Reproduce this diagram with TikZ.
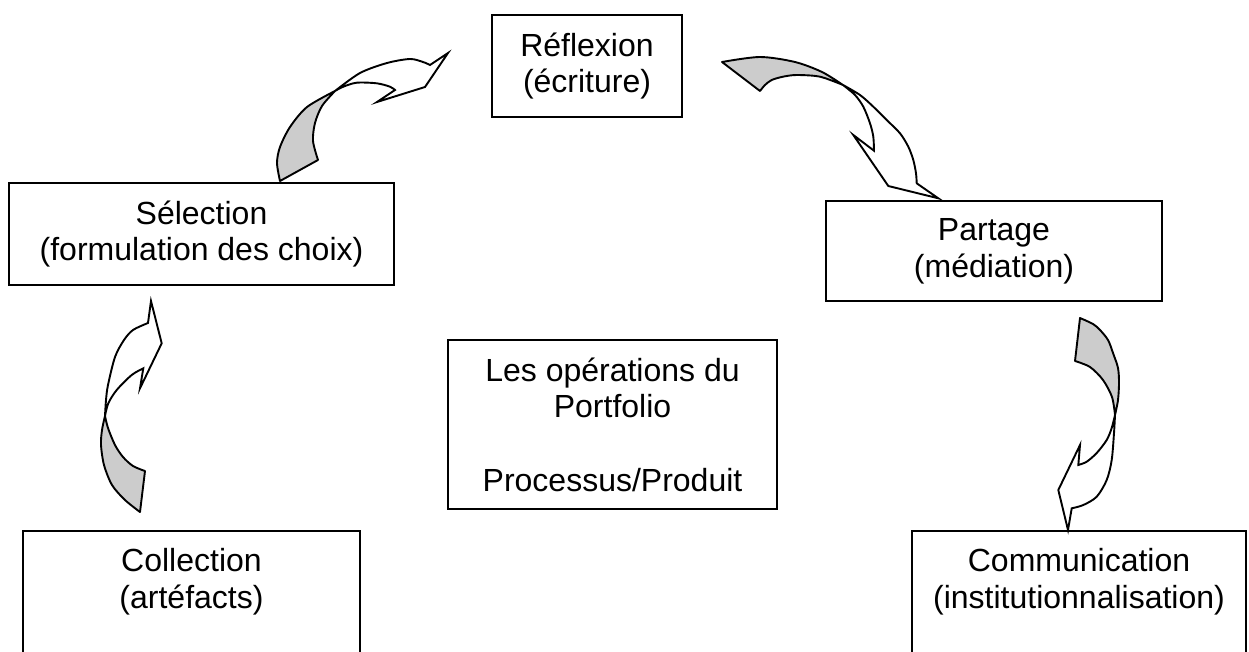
\documentclass[tikz,border=0pt]{standalone}
\usepackage{fontspec}
\setmainfont{Liberation Sans}
\begin{document}
\begin{tikzpicture}[x=1pt,y=-1pt,
  opbox/.style={draw=black, line width=1.9pt, fill=white, anchor=north, align=center,
    font=\fontsize{32}{36.7}\selectfont, inner xsep=0pt, inner ysep=17.5pt},
  backface/.style={draw=black, line width=1.9pt, fill=black!20, line join=round},
  frontface/.style={draw=black, line width=1.9pt, fill=white, line join=miter}]
\path[use as bounding box] (0,0) rectangle (1249,651);
\clip (0,0) rectangle (1249,651);

% the six boxes
\node[opbox, minimum width=190pt] (refl) at (587,14) {Réflexion\\(écriture)};
\node[opbox, minimum width=385pt] (sel) at (201.5,182) {Sélection\\(formulation des choix)};
\node[opbox, minimum width=336pt] (part) at (994,200) {Partage\\(médiation)};
\node[opbox, minimum width=329pt] (ops) at (612.5,339) {Les opérations du\\Portfolio\\[36.7pt]Processus/Produit};
\node[opbox, minimum width=337pt] (coll) at (191.5,530) {Collection\\(artéfacts)\\[60pt]\mbox{}};
\node[opbox, minimum width=334pt] (comm) at (1079,530) {Communication\\(institutionnalisation)\\[60pt]\mbox{}};

% curved arrow: Sélection -> Réflexion
\filldraw[backface] plot[smooth] coordinates {(280,181) (277,163) (280,147) (290,127) (307,107) (335,91)}
  -- plot[smooth] coordinates {(335,91) (322,106) (315,123) (313,141) (318,160)} -- cycle;
\filldraw[frontface] plot[smooth] coordinates {(335,91) (360,73) (387,63) (410,59) (423,62) (430,65)}
  -- (448,53) -- (425,87) -- (377,102) -- (395,90)
  -- plot[smooth] coordinates {(395,90) (390,86.7) (376.7,83.3) (356.7,82.7) (343.3,86.7) (335,91)} -- cycle;

% curved arrow: Réflexion -> Partage
\filldraw[backface] plot[smooth] coordinates {(722,62) (760,57) (795,62) (822,72) (843,85)}
  -- plot[smooth] coordinates {(843,85) (820,76.7) (796.7,75) (783,76.7) (771.7,80) (765,85) (760,91)} -- cycle;
\filldraw[frontface] plot[smooth] coordinates {(843,85) (860,95) (873.3,106.7) (886.7,120) (900,133.3) (908.3,146.7) (913.3,160) (916,173.3) (916.7,183.3)}
  -- (938.3,198.3) -- (888.3,186) -- (853.3,135) -- (874,150.7)
  -- plot[smooth] coordinates {(874,150.7) (873.3,136.7) (870,123.3) (863.3,106.7) (855,95) (843,85)} -- cycle;

% curved arrow: Partage -> Communication
\filldraw[backface] plot[smooth] coordinates {(1080,318) (1093,324) (1100,330) (1108,340) (1113,353) (1118,368) (1119,383) (1118,400) (1115,415)}
  -- plot[smooth] coordinates {(1115,415) (1112,397) (1103,380) (1090,367) (1075,361)} -- cycle;
\filldraw[frontface] plot[smooth] coordinates {(1115,415) (1114,433) (1111.7,460) (1106.7,480) (1096.7,496.7) (1083.3,505) (1071.7,508.3)}
  -- (1068,530) -- (1058.3,490) -- (1080,445) -- (1078.3,465)
  -- plot[smooth] coordinates {(1078.3,465) (1086.7,461.7) (1096.7,453) (1106.7,440) (1111.7,428) (1115,415)} -- cycle;

% curved arrow: Collection -> Sélection
\filldraw[backface] plot[smooth] coordinates {(140,512) (125,500) (112,485) (104,465) (101,445) (102,430) (105,416)}
  -- plot[smooth] coordinates {(105,416) (108,428) (115,445) (123,457) (133,466) (145,471)} -- cycle;
\filldraw[frontface] plot[smooth] coordinates {(105,416) (106,400) (108,385) (115,357) (124,340) (133,330) (148,323)}
  -- (151,301) -- (161.7,343.3) -- (140,388.3) -- (143.3,368.3)
  -- plot[smooth] coordinates {(143.3,368.3) (131.7,375) (116.7,390) (108.3,403.3) (105,416)} -- cycle;
\end{tikzpicture}
\end{document}
